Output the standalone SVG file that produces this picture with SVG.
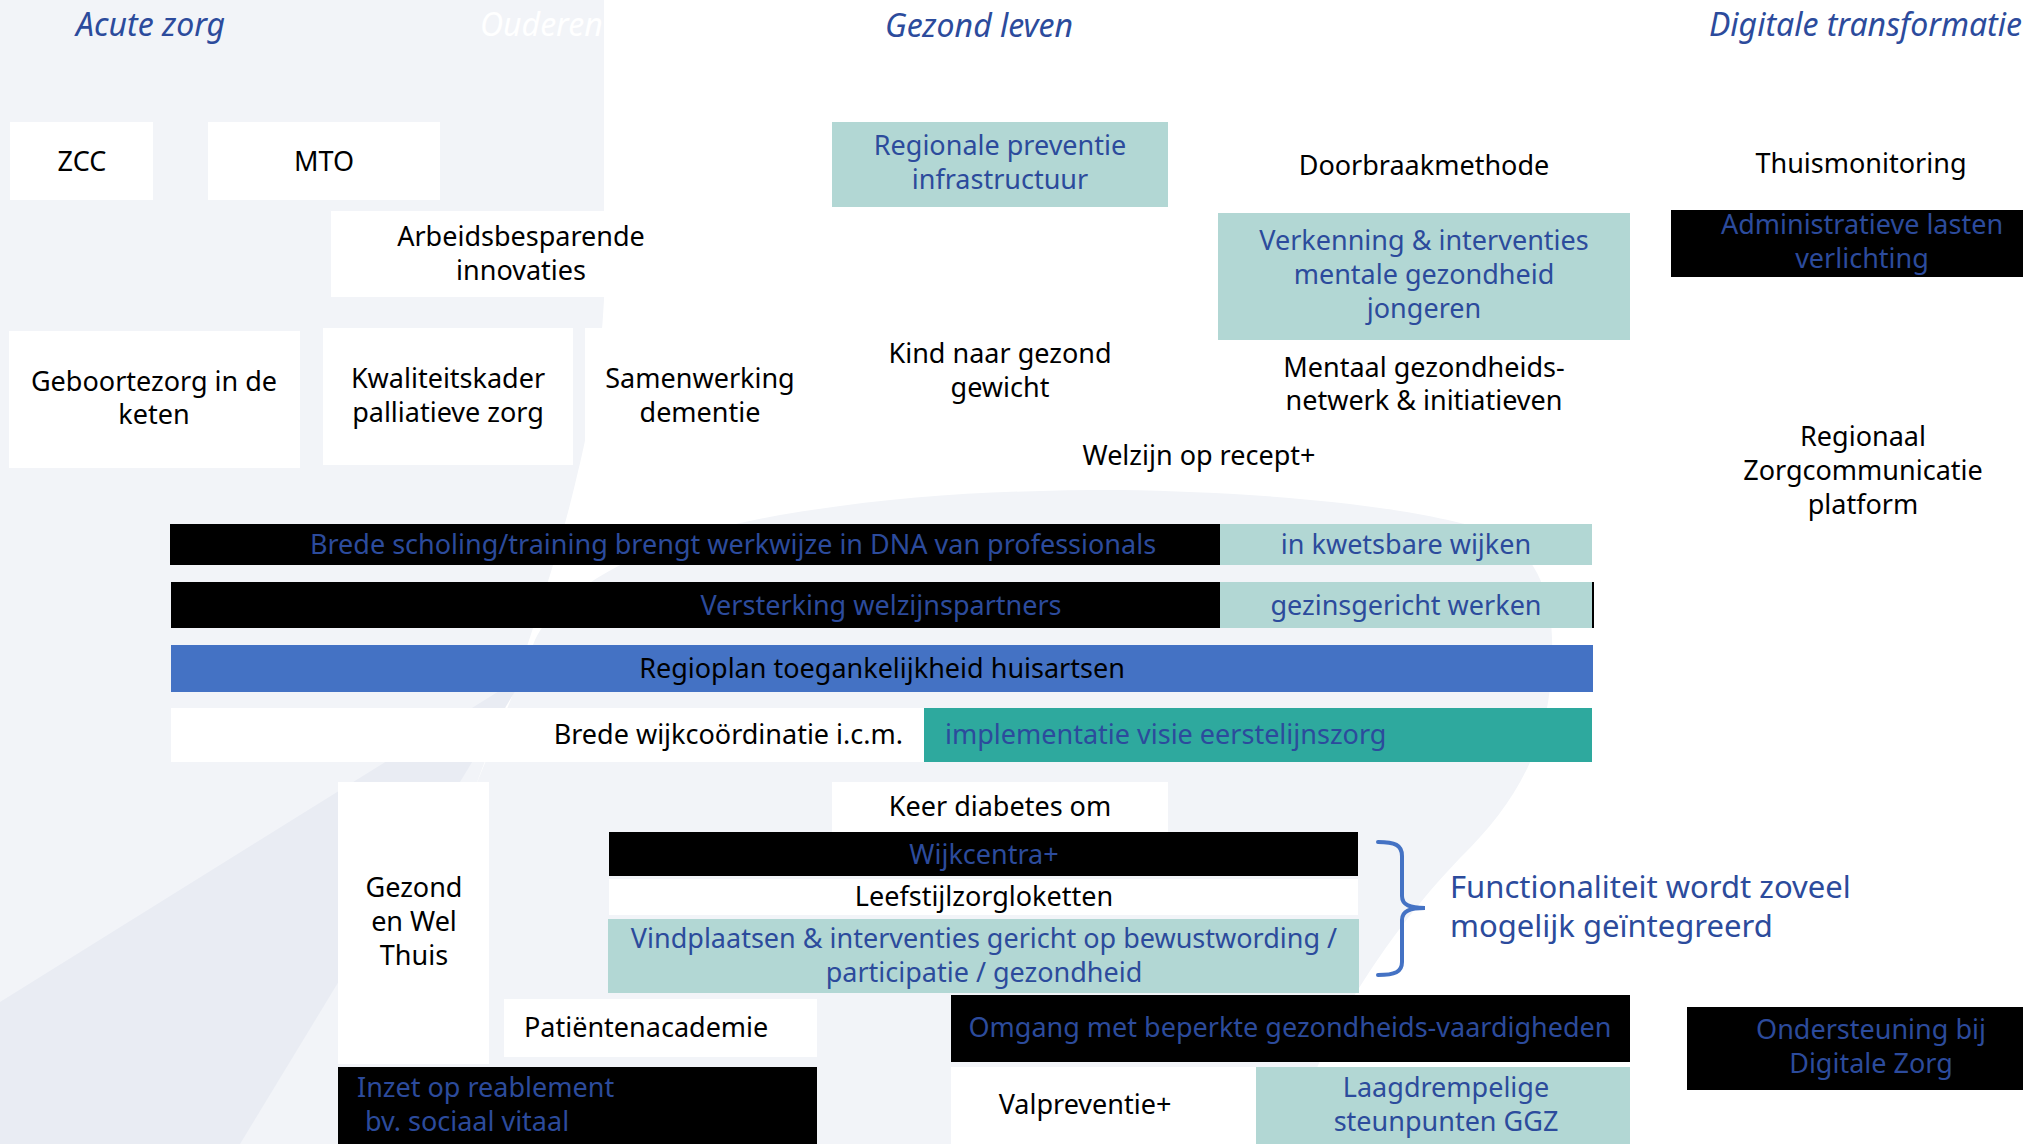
<svg xmlns="http://www.w3.org/2000/svg" width="2023" height="1144" viewBox="0 0 2023 1144">
<style>
text{font-family:"Noto Sans","Liberation Sans",sans-serif;font-size:27px;fill:#000}
.c{text-anchor:middle}
.e{text-anchor:end}
.b{fill:#2c4b9c}
.ti{font-style:italic;font-size:32px;fill:#2c4b9c}
.fn{font-size:31px;fill:#2c4b9c}
.w{fill:#ffffff}
.k{fill:#000000}
.lt{fill:#b2d7d4}
.tl{fill:#2ea99e}
.bl{fill:#4472c4}
</style>
<g id="background">
<rect x="0" y="0" width="2023" height="1144" fill="#ffffff"/>
<path d="M0,0 L604,0 L604,300 C601,360 591,420 576,480 C562,540 540,610 512,690 L474,790 L535,640 C560,590 640,540 780,515 C900,495 1000,490 1120,490 C1260,492 1420,505 1500,535 C1545,560 1554,610 1552,660 C1550,740 1520,800 1460,858 C1420,900 1380,950 1340,1020 C1318,1062 1300,1105 1290,1144 L0,1144 Z" fill="#f2f4f8"/>
<path d="M0,1002 L525,675 L240,1144 L0,1144 Z" fill="#e9ecf3"/>
</g>
<g id="titles">
<text class="ti" x="76" y="36">Acute zorg</text>
<text class="ti" x="480" y="36" style="fill:#ffffff">Ouderen</text>
<text class="ti" x="885" y="37">Gezond leven</text>
<text class="ti" x="1709" y="36">Digitale transformatie</text>
</g>
<g id="connectors">
<path d="M1378,842 C1395,842 1402,845 1402,856 L1402,896 C1402,905 1410,908 1425,908 C1410,908 1402,911 1402,920 L1402,962 C1402,972 1395,975 1378,975" fill="none" stroke="#4472c4" stroke-width="4" stroke-linecap="round"/>
</g>
<g id="n-zcc"><rect class="w" x="10" y="122" width="143" height="78"/><text class="c" x="82" y="171">ZCC</text></g>
<g id="n-mto"><rect class="w" x="208" y="122" width="232" height="78"/><text class="c" x="324" y="171">MTO</text></g>
<g id="n-arbeid"><rect class="w" x="331" y="211" width="380" height="86"/><text class="c" x="521" y="246">Arbeidsbesparende</text><text class="c" x="521" y="280">innovaties</text></g>
<g id="n-geboorte"><rect class="w" x="9" y="331" width="291" height="137"/><text class="c" x="154" y="391">Geboortezorg in de</text><text class="c" x="154" y="424">keten</text></g>
<g id="n-kwaliteit"><rect class="w" x="323" y="328" width="250" height="137"/><text class="c" x="448" y="388">Kwaliteitskader</text><text class="c" x="448" y="422">palliatieve zorg</text></g>
<g id="n-samenwerking"><rect class="w" x="585" y="328" width="230" height="137"/><text class="c" x="700" y="388">Samenwerking</text><text class="c" x="700" y="422">dementie</text></g>
<g id="n-regionale"><rect class="lt" x="832" y="122" width="336" height="85"/><text class="c b" x="1000" y="155">Regionale preventie</text><text class="c b" x="1000" y="189">infrastructuur</text></g>
<g id="n-kind"><text class="c" x="1000" y="363">Kind naar gezond</text><text class="c" x="1000" y="397">gewicht</text></g>
<g id="n-doorbraak"><text class="c" x="1424" y="175">Doorbraakmethode</text></g>
<g id="n-verkenning"><rect class="lt" x="1218" y="213" width="412" height="127"/><text class="c b" x="1424" y="250">Verkenning &amp; interventies</text><text class="c b" x="1424" y="284">mentale gezondheid</text><text class="c b" x="1424" y="318">jongeren</text></g>
<g id="n-mentaal"><text class="c" x="1424" y="377">Mentaal gezondheids-</text><text class="c" x="1424" y="410">netwerk &amp; initiatieven</text></g>
<g id="n-welzijn"><text class="c" x="1199" y="465">Welzijn op recept+</text></g>
<g id="n-thuis"><text class="c" x="1861" y="173">Thuismonitoring</text></g>
<g id="n-admin"><rect class="k" x="1671" y="210" width="352" height="67"/><text class="c b" x="1862" y="234">Administratieve lasten</text><text class="c b" x="1862" y="268">verlichting</text></g>
<g id="n-rzp"><text class="c" x="1863" y="446">Regionaal</text><text class="c" x="1863" y="480">Zorgcommunicatie</text><text class="c" x="1863" y="514">platform</text></g>
<g id="n-scholing"><rect class="k" x="170" y="524" width="1050" height="41"/><text class="c b" x="733" y="554">Brede scholing/training brengt werkwijze in DNA van professionals</text></g>
<g id="n-kwetsbaar"><rect class="lt" x="1220" y="524" width="372" height="41"/><text class="c b" x="1406" y="554">in kwetsbare wijken</text></g>
<g id="n-versterking"><rect class="k" x="171" y="582" width="1049" height="46"/><text class="c b" x="881" y="615">Versterking welzijnspartners</text></g>
<g id="n-gezins"><rect class="lt" x="1220" y="582" width="372" height="46"/><rect class="k" x="1592" y="582" width="2" height="46"/><text class="c b" x="1406" y="615">gezinsgericht werken</text></g>
<g id="n-regioplan"><rect class="bl" x="171" y="645" width="1422" height="47"/><text class="c" x="882" y="678">Regioplan toegankelijkheid huisartsen</text></g>
<g id="n-wijkcoord"><rect class="w" x="171" y="708" width="753" height="54"/><text class="e" x="903" y="744">Brede wijkcoördinatie i.c.m.</text></g>
<g id="n-implementatie"><rect class="tl" x="924" y="708" width="668" height="54"/><text class="b" x="945" y="744">implementatie visie eerstelijnszorg</text></g>
<g id="n-diabetes"><rect class="w" x="832" y="782" width="336" height="50"/><text class="c" x="1000" y="816">Keer diabetes om</text></g>
<g id="n-gezondwel"><rect class="w" x="338" y="782" width="151" height="282"/><text class="c" x="414" y="897">Gezond</text><text class="c" x="414" y="931">en Wel</text><text class="c" x="414" y="965">Thuis</text></g>
<g id="n-wijkcentra"><rect class="k" x="609" y="832" width="749" height="44"/><text class="c b" x="984" y="864">Wijkcentra+</text></g>
<g id="n-leefstijl"><rect class="w" x="609" y="879" width="749" height="36"/><text class="c" x="984" y="906">Leefstijlzorgloketten</text></g>
<g id="n-vindplaatsen"><rect class="lt" x="608" y="919" width="751" height="74"/><text class="c b" x="984" y="948">Vindplaatsen &amp; interventies gericht op bewustwording /</text><text class="c b" x="984" y="982">participatie / gezondheid</text></g>
<g id="n-patient"><rect class="w" x="504" y="999" width="313" height="58"/><text x="524" y="1037">Patiëntenacademie</text></g>
<g id="n-inzet"><rect class="k" x="338" y="1067" width="479" height="77"/><text class="b" x="357" y="1097">Inzet op reablement</text><text class="b" x="365" y="1131">bv. sociaal vitaal</text></g>
<g id="n-omgang"><rect class="k" x="951" y="995" width="679" height="67"/><text class="c b" x="1290" y="1037">Omgang met beperkte gezondheids-vaardigheden</text></g>
<g id="n-val"><rect class="w" x="951" y="1067" width="305" height="77"/><text class="c" x="1085" y="1114">Valpreventie+</text></g>
<g id="n-laag"><rect class="lt" x="1256" y="1067" width="374" height="77"/><text class="c b" x="1446" y="1097">Laagdrempelige</text><text class="c b" x="1446" y="1131">steunpunten GGZ</text></g>
<g id="n-ondersteuning"><rect class="k" x="1687" y="1007" width="336" height="83"/><text class="c b" x="1871" y="1039">Ondersteuning bij</text><text class="c b" x="1871" y="1073">Digitale Zorg</text></g>
<g id="n-functionaliteit"><text class="fn" x="1450" y="898">Functionaliteit wordt zoveel</text><text class="fn" x="1450" y="937">mogelijk geïntegreerd</text></g>
</svg>
